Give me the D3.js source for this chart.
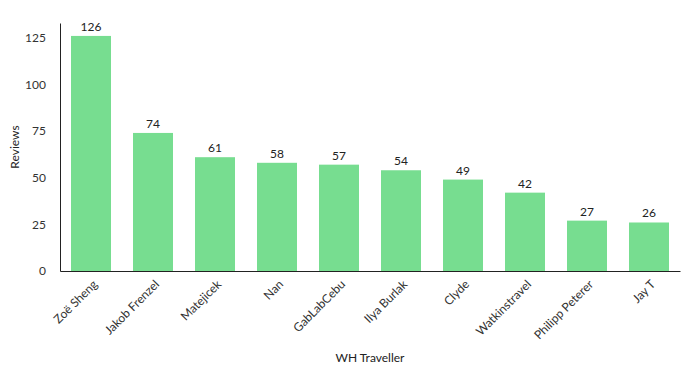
<!DOCTYPE html>
<html>
<head>
<meta charset="utf-8">
<script src="https://cdn.jsdelivr.net/npm/d3@7"></script>
<style>
    body { margin: 0; background: #fff; font-family: Lato, "Open Sans", sans-serif; }
    .tick text { fill: #333; font-size: 12px; font-family: Lato, sans-serif; }
    .axis-label { fill: #222; font-size: 12px; }
    .bar-label { fill: #222; font-size: 12px; }
</style>
</head>
<body>
<script>
// data
var travellers = ["Zoë Sheng", "Jakob Frenzel", "Matejicek", "Nan", "GabLabCebu",
    "Ilya Burlak", "Clyde", "Watkinstravel", "Philipp Peterer", "Jay T"]
var reviews = [126, 74, 61, 58, 57, 54, 49, 42, 27, 26]
var yTicks = [0, 25, 50, 75, 100, 125]

const width = 691
const height = 376
const margin = { top: 23, right: 11, bottom: 105, left: 60 }

var svg = d3.select("body")
    .append("svg")
    .attr("width", width)
    .attr("height", height)

var xScale = d3.scaleBand()
    .domain(travellers)
    .range([margin.left, width - margin.right])
    .paddingInner(0.355)
    .paddingOuter(0.1775)

var yScale = d3.scaleLinear()
    .domain([0, d3.max(reviews) * 1.055])
    .range([height - margin.bottom, margin.top])

//bars
svg.selectAll("rect")
    .data(reviews)
    .enter()
    .append("rect")
    .attr("x", (d, i) => xScale(travellers[i]))
    .attr("y", (d) => yScale(d))
    .attr("width", xScale.bandwidth())
    .attr("height", (d) => yScale(0) - yScale(d))
    .attr("fill", "#77dd90")

//value labels
svg.selectAll(".bar-label")
    .data(reviews)
    .enter()
    .append("text")
    .attr("class", "bar-label")
    .attr("text-anchor", "middle")
    .attr("x", (d, i) => xScale(travellers[i]) + xScale.bandwidth() / 2)
    .attr("y", (d) => yScale(d) - 5)
    .text((d) => d)

//x axis
var xAxis = svg.append("g")
    .attr("transform", "translate(0," + yScale(0) + ")")
    .call(d3.axisBottom(xScale).tickSize(0).tickSizeOuter(0))
xAxis.select(".domain").attr("stroke", "#222")
xAxis.selectAll("text")
    .attr("text-anchor", "end")
    .attr("dy", "0.35em")
    .attr("transform", "translate(2,9) rotate(-45)")

//y axis
var yAxis = svg.append("g")
    .attr("transform", "translate(" + margin.left + ",0)")
    .call(d3.axisLeft(yScale).tickValues(yTicks).tickSize(0).tickSizeOuter(0).tickPadding(14))
yAxis.select(".domain").attr("stroke", "#222")

//axis titles
svg.append("text")
    .attr("class", "axis-label")
    .attr("text-anchor", "middle")
    .attr("x", (margin.left + width - margin.right) / 2)
    .attr("y", 362)
    .text("WH Traveller")

svg.append("text")
    .attr("class", "axis-label")
    .attr("text-anchor", "middle")
    .attr("transform", "rotate(-90)")
    .attr("x", -(margin.top + height - margin.bottom) / 2)
    .attr("y", 19)
    .text("Reviews")
</script>
</body>
</html>
